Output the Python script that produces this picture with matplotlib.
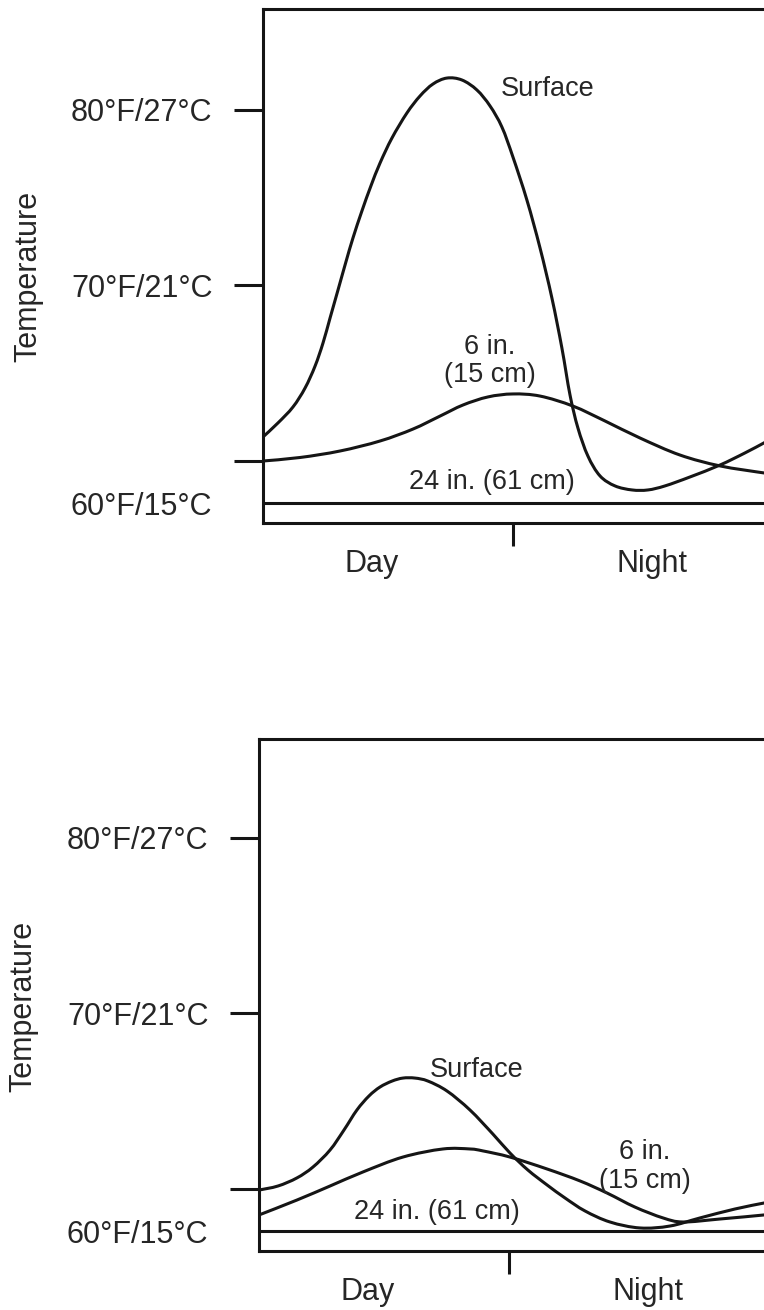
import matplotlib
matplotlib.use('Agg')
import matplotlib.pyplot as plt
from matplotlib.ticker import FixedLocator, FixedFormatter
from matplotlib.path import Path
from matplotlib.patches import PathPatch

plt.rcParams['font.family'] = ['Liberation Sans', 'DejaVu Sans']

# ---------------- data (x: hours from left edge, y: temperature in °F) ----------------
time_labels = ['Day', 'Night']
time_label_pos = [5.2, 18.7]
midpoint = [12]

ytick_vals = [80, 70, 60]
ytick_labels = ['80°F/27°C', '70°F/21°C', '60°F/15°C']
label60_pos = 57.6

# Top panel
top_surface_h = [0.00, 0.72, 1.44, 2.02, 2.50, 2.88, 3.22, 3.60, 3.98, 4.32, 4.75, 5.18,
                 5.62, 6.19, 6.91, 7.54, 8.16, 8.83, 9.55, 10.27, 10.90, 11.47, 12.00,
                 12.67, 13.30, 13.87, 14.35, 14.74, 15.12, 15.60, 16.18, 16.90, 17.72,
                 18.48, 19.30, 20.50, 21.94, 23.14, 24.05, 24.48]
top_surface_t = [61.37, 62.17, 63.08, 64.16, 65.41, 66.72, 68.15, 69.74, 71.34, 72.71, 74.25, 75.67,
                 76.98, 78.40, 79.83, 80.80, 81.48, 81.82, 81.71, 81.14, 80.23, 79.03, 77.32,
                 74.87, 72.14, 69.29, 66.44, 63.76, 61.88, 60.28, 59.15, 58.58, 58.35,
                 58.35, 58.58, 59.09, 59.77, 60.46, 61.03, 61.31]

top_6in_h = [0.00, 1.78, 3.70, 5.62, 7.20, 8.50, 9.60, 10.80, 12.00, 13.30, 14.88,
             16.42, 18.10, 20.02, 21.94, 24.05, 24.48]
top_6in_t = [60.00, 60.20, 60.57, 61.14, 61.82, 62.56, 63.19, 63.65, 63.82, 63.70, 63.13,
             62.28, 61.31, 60.34, 59.72, 59.32, 59.26]

top_24in_h = [0.0, 24.5]
top_24in_t = [57.62, 57.62]

# Bottom panel
bot_surface_h = [0.00, 0.91, 1.82, 2.59, 3.41, 4.08, 4.70, 5.28, 5.81, 6.39, 6.91, 7.49,
                 8.11, 9.03, 10.13, 11.23, 12.05, 12.91, 13.83, 14.69, 15.65, 16.85,
                 18.29, 19.73, 21.17, 22.85, 24.24, 24.48]
bot_surface_t = [59.94, 60.17, 60.63, 61.25, 62.22, 63.36, 64.50, 65.30, 65.81, 66.15, 66.32, 66.32,
                 66.15, 65.58, 64.50, 63.13, 62.05, 61.08, 60.23, 59.49, 58.75, 58.12,
                 57.78, 57.89, 58.35, 58.86, 59.20, 59.26]

bot_6in_h = [0.00, 1.82, 3.41, 4.99, 6.91, 8.83, 10.13, 10.75, 12.05, 13.83, 15.41,
             16.71, 18.05, 19.40, 20.36, 22.13, 24.24, 24.48]
bot_6in_t = [58.52, 59.37, 60.17, 60.97, 61.82, 62.28, 62.28, 62.17, 61.82, 61.14, 60.46,
             59.77, 58.97, 58.35, 58.12, 58.29, 58.52, 58.58]

bot_24in_h = [0.0, 24.5]
bot_24in_t = [57.62, 57.62]

# curve labels: (text, x, baseline y)
top_labels = [('Surface', 13.66, 80.80), ('6 in.', 10.90, 66.10),
              ('(15 cm)', 10.90, 64.50), ('24 in. (61 cm)', 10.98, 58.40)]
bot_labels = [('Surface', 10.47, 66.38), ('6 in.', 18.53, 61.71),
              ('(15 cm)', 18.53, 60.06), ('24 in. (61 cm)', 8.52, 58.28)]

# ---------------- styling ----------------
LINE = '#151515'
TEXT = '#262626'
LW = 2.2
TICK_FS = 22
CURVE_FS = 19.5

fig = plt.figure(figsize=(7.64, 13.10), dpi=100)

ax_top = fig.add_axes([263 / 764, 1 - 523 / 1310, 510.3 / 764, 514 / 1310])
ax_bot = fig.add_axes([259 / 764, 1 - 1251 / 1310, 510.3 / 764, 512 / 1310])


def smooth_curve(ax, xs, ys):
    """Draw a smooth (Catmull-Rom as cubic Bezier) stroke through the read points."""
    pts = list(zip(xs, ys))
    n = len(pts)
    verts = [pts[0]]
    codes = [Path.MOVETO]
    for i in range(n - 1):
        p0 = pts[i - 1] if i > 0 else pts[i]
        p1 = pts[i]
        p2 = pts[i + 1]
        p3 = pts[i + 2] if i + 2 < n else pts[i + 1]
        c1 = (p1[0] + (p2[0] - p0[0]) / 6.0, p1[1] + (p2[1] - p0[1]) / 6.0)
        c2 = (p2[0] - (p3[0] - p1[0]) / 6.0, p2[1] - (p3[1] - p1[1]) / 6.0)
        verts += [c1, c2, p2]
        codes += [Path.CURVE4] * 3
    patch = PathPatch(Path(verts, codes), facecolor='none', edgecolor=LINE,
                      lw=LW, capstyle='butt', joinstyle='round', transform=ax.transData)
    ax.add_patch(patch)


def style(ax, ylim_top, ylabel_xy, curves, flat, labels):
    for hx, ty in curves:
        smooth_curve(ax, hx, ty)
    ax.plot(flat[0], flat[1], color=LINE, lw=LW, solid_capstyle='butt')
    ax.set_xlim(0, 24.5)
    ax.set_ylim(56.467, ylim_top)
    for sp in ax.spines.values():
        sp.set_linewidth(LW)
        sp.set_color(LINE)

    # y ticks
    ax.yaxis.set_major_locator(FixedLocator(ytick_vals))
    ax.yaxis.set_major_formatter(FixedFormatter([ytick_labels[0], ytick_labels[1], '']))
    ax.yaxis.set_minor_locator(FixedLocator([label60_pos]))
    ax.yaxis.set_minor_formatter(FixedFormatter([ytick_labels[2]]))
    ax.tick_params(axis='y', which='major', direction='out', length=20.9, width=LW,
                   color=LINE, pad=15.5, labelsize=TICK_FS, labelcolor=TEXT)
    ax.tick_params(axis='y', which='minor', length=0, pad=36.4,
                   labelsize=TICK_FS, labelcolor=TEXT)

    # x ticks
    ax.xaxis.set_major_locator(FixedLocator(midpoint))
    ax.xaxis.set_major_formatter(FixedFormatter(['']))
    ax.xaxis.set_minor_locator(FixedLocator(time_label_pos))
    ax.xaxis.set_minor_formatter(FixedFormatter(time_labels))
    ax.tick_params(axis='x', which='major', direction='out', length=16.6, width=LW,
                   color=LINE)
    ax.tick_params(axis='x', which='minor', length=0, pad=19,
                   labelsize=TICK_FS, labelcolor=TEXT)

    ax.set_ylabel('Temperature', fontsize=TICK_FS, color=TEXT, va='center', ha='center')
    ax.yaxis.set_label_coords(*ylabel_xy)

    for txt, x, y in labels:
        ax.text(x, y, txt, ha='center', va='baseline', fontsize=CURVE_FS, color=TEXT)


style(ax_top, 85.755, (-0.4605, 0.4805),
      [(top_surface_h, top_surface_t), (top_6in_h, top_6in_t)],
      (top_24in_h, top_24in_t), top_labels)
style(ax_bot, 85.64, (-0.4615, 0.4785),
      [(bot_surface_h, bot_surface_t), (bot_6in_h, bot_6in_t)],
      (bot_24in_h, bot_24in_t), bot_labels)

fig.savefig('out.png', dpi=100, facecolor='white')
